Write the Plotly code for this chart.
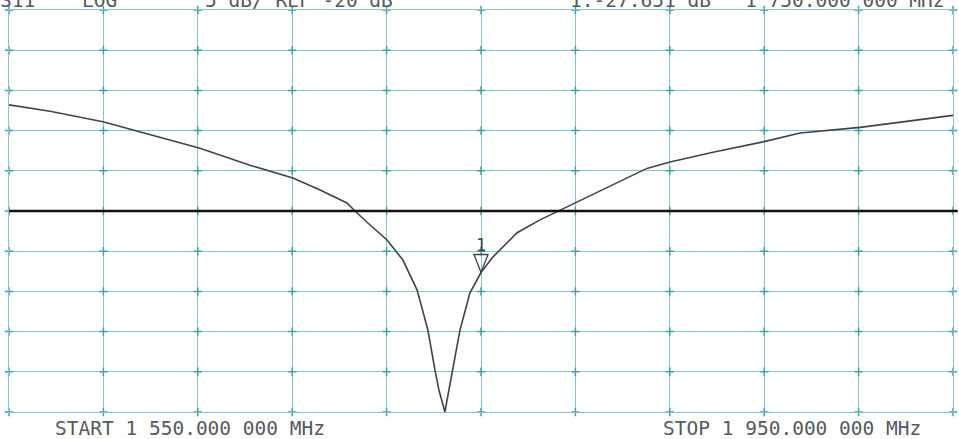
import plotly.graph_objects as go

# Frequency sweep (MHz) and S11 magnitude (dB)
freq_mhz = [1550.0, 1567.4, 1589.8, 1609.7, 1630.9, 1652.1, 1670.3, 1681.8, 1693.2,
            1696.6, 1701.7, 1710.2, 1716.9, 1722.9, 1727.5, 1730.5, 1732.2, 1734.7,
            1738.1, 1741.1, 1745.3, 1750.0, 1755.1, 1765.3, 1775.0, 1783.5, 1793.2,
            1805.9, 1820.3, 1830.1, 1848.3, 1869.5, 1885.2, 1910.6, 1950.0]
s11_db = [-6.8, -7.6, -8.9, -10.5, -12.2, -14.3, -15.9, -17.4, -19.0,
          -20.0, -21.4, -23.6, -26.1, -29.8, -34.8, -39.8, -42.3, -45.0,
          -39.8, -34.8, -30.2, -27.651, -25.7, -22.7, -21.1, -19.9, -18.6,
          -16.8, -14.7, -13.9, -12.7, -11.4, -10.3, -9.6, -8.1]

start_mhz, stop_mhz = 1550.0, 1950.0
ref_db, scale_db = -20.0, 5.0
marker_freq, marker_db = 1750.0, -27.651

header_left = ["S11", "LOG", "5 dB/ REF -20 dB"]
header_right = ["1:-27.651 dB", "1 750.000 000 MHz"]
footer_left = "START 1 550.000 000 MHz"
footer_right = "STOP 1 950.000 000 MHz"

y_top = ref_db + 5 * scale_db
y_bot = ref_db - 5 * scale_db
grid_col = "rgb(132,198,203)"
txt_col = "#555a60"
font_mono = "DejaVu Sans Mono"

fig = go.Figure()

# grid intersection tick marks
xs_t, ys_t = [], []
for i in range(11):
    for j in range(11):
        xs_t.append(start_mhz + i * (stop_mhz - start_mhz) / 10)
        ys_t.append(y_bot + j * scale_db)
fig.add_trace(go.Scatter(x=xs_t, y=ys_t, mode="markers",
                         marker=dict(symbol="cross-thin", size=6,
                                     line=dict(color="rgb(70,160,165)", width=1.5)),
                         hoverinfo="skip", showlegend=False, cliponaxis=False))

fig.add_trace(go.Scatter(x=freq_mhz, y=s11_db, mode="lines",
                         line=dict(color="#3c4352", width=1.6),
                         showlegend=False))

# reference line
fig.add_shape(type="line", xref="paper", x0=0, x1=1.005, yref="y", y0=ref_db, y1=ref_db,
              line=dict(color="#111111", width=2.4))

# marker triangle
fig.add_shape(type="path", xref="x", yref="y", xsizemode="pixel", ysizemode="pixel",
              xanchor=marker_freq, yanchor=marker_db,
              path="M -7,18 L 7,18 L 0,0 Z", line=dict(color="#3c4352", width=1.3))
fig.add_annotation(x=marker_freq, y=marker_db, text="1", showarrow=False,
                   yshift=28, font=dict(family=font_mono, size=17, color="#3c4352"))

fig.update_xaxes(range=[start_mhz, stop_mhz], tick0=start_mhz,
                 dtick=(stop_mhz - start_mhz) / 10,
                 showgrid=True, gridcolor=grid_col, gridwidth=1, zeroline=False,
                 showline=True, linecolor=grid_col, linewidth=1, mirror=True,
                 showticklabels=False, ticks="")
fig.update_yaxes(range=[y_bot, y_top], dtick=scale_db, tick0=y_bot,
                 showgrid=True, gridcolor=grid_col, gridwidth=1, zeroline=False,
                 showline=True, linecolor=grid_col, linewidth=1, mirror=True,
                 showticklabels=False, ticks="")

def ann(text, xpx, above, yshift):
    fig.add_annotation(xref="paper", yref="paper", x=(xpx - 2 - 9) / 944,
                       y=1 if above else 0, xanchor="left", yanchor="middle",
                       text=text, showarrow=False, yshift=yshift,
                       font=dict(family=font_mono, size=19.5, color=txt_col))

ann(header_left[0], 0, True, 10)
ann(header_left[1], 82, True, 10)
ann(header_left[2], 205, True, 10)
ann(header_right[0], 570, True, 10)
ann(header_right[1], 745, True, 10)
ann(footer_left, 55, False, -16)
ann(footer_right, 663, False, -16)

fig.update_layout(width=959, height=439, margin=dict(l=9, r=6, t=10, b=27),
                  paper_bgcolor="white", plot_bgcolor="white")

fig.write_html("out.html", config={"displayModeBar": False},
               post_script="document.body.style.margin='0';")
